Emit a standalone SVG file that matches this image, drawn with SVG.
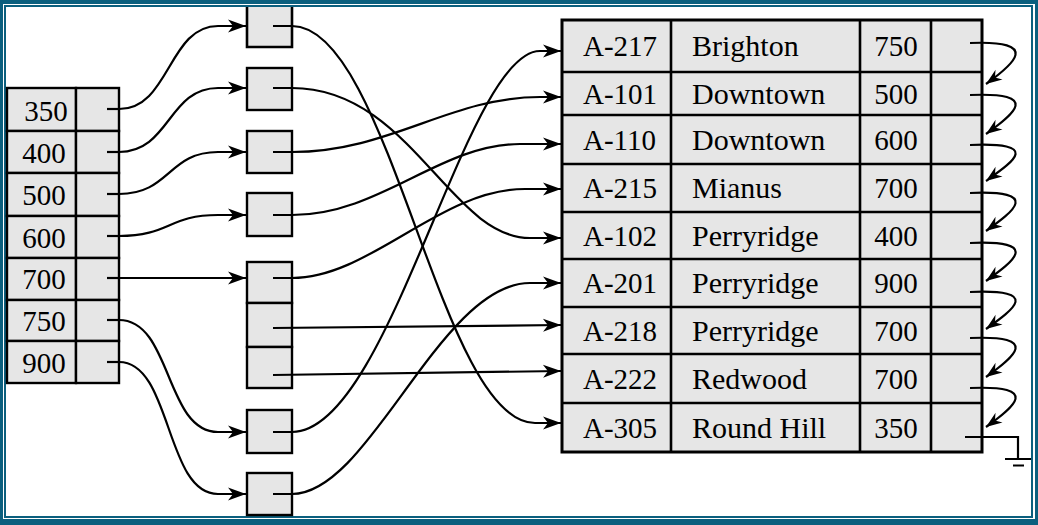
<svg xmlns="http://www.w3.org/2000/svg" width="1038" height="525" viewBox="0 0 1038 525">
<defs>
<style>
.cell{fill:#e6e6e6;stroke:#000;stroke-width:2.4}
.ln{fill:none;stroke:#000;stroke-width:2.6}
.t{font-family:"Liberation Serif","Times New Roman",serif;font-size:29px;fill:#000}
.n{font-family:"Liberation Serif","Times New Roman",serif;font-size:30px;fill:#000}
.m{text-anchor:middle}
.c{fill:none;stroke:#000;stroke-width:2.2}
.a{marker-end:url(#ah)}
.b{marker-end:url(#ah2)}
</style>
<marker id="ah" viewBox="-19 -8 20 16" refX="0" refY="0" markerWidth="20" markerHeight="16" markerUnits="userSpaceOnUse" orient="auto"><path d="M0,0 L-18,-6.5 L-13,0 L-18,6.5 Z" fill="#000"/></marker>
<marker id="ah2" viewBox="-17 -8 18 16" refX="0" refY="0" markerWidth="18" markerHeight="16" markerUnits="userSpaceOnUse" orient="auto"><path d="M0,0 L-16,-6 L-11,0 L-16,6 Z" fill="#000"/></marker>
</defs>
<g id="frame">
<rect width="1038" height="525" fill="#0b5f7e"/>
<rect x="3" y="4" width="1032" height="515" fill="#ffffff"/>
<rect x="4" y="5" width="1029" height="513" fill="#0b5f7e"/>
<rect x="6" y="7" width="1025" height="509" fill="#ffffff"/>
</g>
<g id="index">
<rect class="cell" x="7" y="88" width="69" height="43"/><rect class="cell" x="76" y="88" width="43" height="43"/>
<rect class="cell" x="7" y="131" width="69" height="42"/><rect class="cell" x="76" y="131" width="43" height="42"/>
<rect class="cell" x="7" y="173" width="69" height="43"/><rect class="cell" x="76" y="173" width="43" height="43"/>
<rect class="cell" x="7" y="216" width="69" height="42"/><rect class="cell" x="76" y="216" width="43" height="42"/>
<rect class="cell" x="7" y="258" width="69" height="42"/><rect class="cell" x="76" y="258" width="43" height="42"/>
<rect class="cell" x="7" y="300" width="69" height="41"/><rect class="cell" x="76" y="300" width="43" height="41"/>
<rect class="cell" x="7" y="341" width="69" height="42"/><rect class="cell" x="76" y="341" width="43" height="42"/>
<text class="t m" x="46" y="121">350</text>
<text class="t m" x="44" y="163">400</text>
<text class="t m" x="44" y="205">500</text>
<text class="t m" x="44" y="248">600</text>
<text class="t m" x="44" y="289">700</text>
<text class="t m" x="44" y="331">750</text>
<text class="t m" x="44" y="373">900</text>
</g>
<g id="bucket1"><rect x="247" y="7" width="45" height="40" fill="#e6e6e6"/><path class="ln" d="M247,7 V47 H292 V7"/></g>
<g id="bucket2"><rect class="cell" x="247" y="68" width="45" height="42"/></g>
<g id="bucket3"><rect class="cell" x="247" y="131" width="45" height="42"/></g>
<g id="bucket4"><rect class="cell" x="247" y="193" width="45" height="43"/></g>
<g id="bucket5"><rect class="cell" x="247" y="262" width="45" height="41"/><rect class="cell" x="247" y="303" width="45" height="44"/><rect class="cell" x="247" y="347" width="45" height="41"/></g>
<g id="bucket6"><rect class="cell" x="247" y="410" width="45" height="43"/></g>
<g id="bucket7"><rect class="cell" x="247" y="473" width="45" height="42"/></g>
<g id="accounts">
<rect x="562" y="20" width="420" height="432" fill="#e6e6e6" stroke="#000" stroke-width="3"/>
<path class="ln" d="M562,72 H982 M562,115 H982 M562,164 H982 M562,212 H982 M562,259 H982 M562,307 H982 M562,354 H982 M562,403 H982 M671,20 V452 M860,20 V452 M931,20 V452"/>
<text class="t" x="583" y="56">A-217</text><text class="n" x="692" y="56">Brighton</text><text class="t m" x="896" y="56">750</text>
<text class="t" x="583" y="103.5">A-101</text><text class="n" x="692" y="103.5">Downtown</text><text class="t m" x="896" y="103.5">500</text>
<text class="t" x="583" y="149.5">A-110</text><text class="n" x="692" y="149.5">Downtown</text><text class="t m" x="896" y="149.5">600</text>
<text class="t" x="583" y="198">A-215</text><text class="n" x="692" y="198">Mianus</text><text class="t m" x="896" y="198">700</text>
<text class="t" x="583" y="245.5">A-102</text><text class="n" x="692" y="245.5">Perryridge</text><text class="t m" x="896" y="245.5">400</text>
<text class="t" x="583" y="293">A-201</text><text class="n" x="692" y="293">Perryridge</text><text class="t m" x="896" y="293">900</text>
<text class="t" x="583" y="340.5">A-218</text><text class="n" x="692" y="340.5">Perryridge</text><text class="t m" x="896" y="340.5">700</text>
<text class="t" x="583" y="388.5">A-222</text><text class="n" x="692" y="388.5">Redwood</text><text class="t m" x="896" y="388.5">700</text>
<text class="t" x="583" y="437.5">A-305</text><text class="n" x="692" y="437.5">Round Hill</text><text class="t m" x="896" y="437.5">350</text>
</g>
<g id="connectors">
<path class="c" d="M107,109 H119"/><path class="c" d="M107,152 H119"/><path class="c" d="M107,194 H119"/><path class="c" d="M107,236 H119"/><path class="c" d="M107,278 H119"/><path class="c" d="M107,320 H119"/><path class="c" d="M107,362 H119"/>
<path class="c a" d="M119,109 C170,109 168,26 218,26 L246,26"/>
<path class="c a" d="M119,152 C170,152 168,88 218,88 L246,88"/>
<path class="c a" d="M119,194 C170,194 168,152 218,152 L246,152"/>
<path class="c a" d="M119,236 C170,236 168,215 218,215 L246,215"/>
<path class="c a" d="M119,278 L246,278"/>
<path class="c a" d="M119,320 C172,320 165,432 218,432 L246,432"/>
<path class="c a" d="M119,362 C172,362 165,494 218,494 L246,494"/>
<path class="c a" d="M273,26 H292 C390,26 440,423 535,423 L561,423"/>
<path class="c a" d="M273,88 H292 C410,88 450,238 530,238 L561,238"/>
<path class="c a" d="M273,152 H292 C390,152 450,97 540,97 L561,97"/>
<path class="c a" d="M273,215 H292 C380,215 440,144 520,144 L561,144"/>
<path class="c a" d="M273,278 H292 C370,278 440,189 525,189 L561,189"/>
<path class="c a" d="M273,328 L561,325"/>
<path class="c a" d="M273,375 L561,371"/>
<path class="c a" d="M273,432 H292 C390,432 465,51 540,51 L561,51"/>
<path class="c a" d="M273,494 H292 C370,494 440,283 530,283 L561,283"/>
<path class="c b" d="M970,43 C1042,40 1014,64 986,84"/>
<path class="c b" d="M970,95 C1042,92 1014,114 986,134"/>
<path class="c b" d="M970,145 C1042,142 1014,161 986,181"/>
<path class="c b" d="M970,193 C1042,190 1014,211 986,231"/>
<path class="c b" d="M970,243 C1042,240 1014,261 986,281"/>
<path class="c b" d="M970,292 C1042,289 1014,309 986,329"/>
<path class="c b" d="M970,338 C1042,335 1014,357 986,377"/>
<path class="c b" d="M970,388 C1042,385 1014,407 986,427"/>
<path class="c" d="M965,437 H1018 V459" stroke-width="2.6"/>
<path class="c" d="M1005,459 H1031 M1013,465.5 H1024" stroke-width="2.6"/>
</g>
</svg>
